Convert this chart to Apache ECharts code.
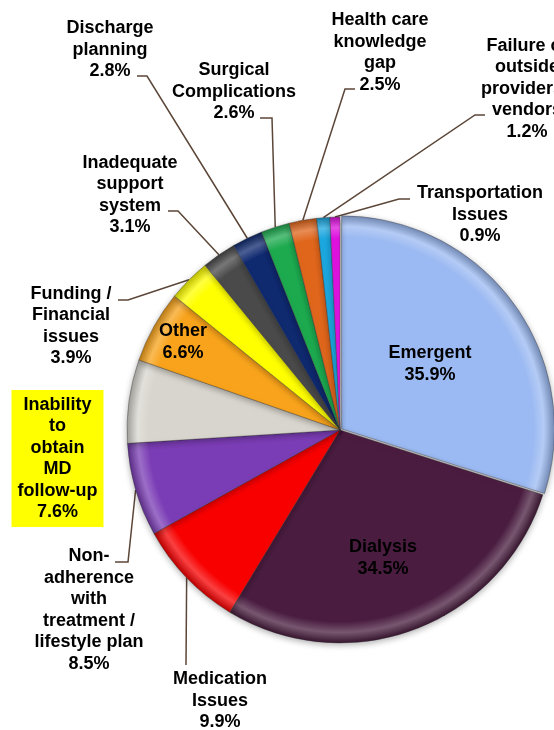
<!DOCTYPE html>
<html>
<head>
<meta charset="utf-8">
<script src="https://cdn.jsdelivr.net/npm/echarts@6/dist/echarts.min.js"></script>
<style>
  html, body { margin: 0; padding: 0; background: #fff; }
  #chart { width: 554px; height: 730px; }
</style>
</head>
<body>
<div id="chart"></div>
<script>
// slices, clockwise from 12 o'clock
const categories = [
  'Emergent',
  'Dialysis',
  'Medication\nIssues',
  'Non-\nadherence\nwith\ntreatment /\nlifestyle plan',
  'Inability\nto\nobtain\nMD\nfollow-up',
  'Other',
  'Funding /\nFinancial\nissues',
  'Inadequate\nsupport\nsystem',
  'Discharge\nplanning',
  'Surgical\nComplications',
  'Health care\nknowledge\ngap',
  'Failure of\noutside\nproviders /\nvendors',
  'Transportation\nIssues'
]
const percents = [35.9, 34.5, 9.9, 8.5, 7.6, 6.6, 3.9, 3.1, 2.8, 2.6, 2.5, 1.2, 0.9]

const sliceColors = ['#9bb9f2', '#4a1d40', '#f80000', '#7b3db5', '#d8d5ce', '#f8a31b', '#ffff00',
  '#4a4a4a', '#102a70', '#1daa4f', '#e0661c', '#1ca8e0', '#e012e0']

// label placement: text centre, then leader bend + end (next to the text)
const labelPos = [
  { x: 427, y: 365 },
  { x: 383, y: 558 },
  { x: 220, y: 701, line: [[186, 665], [186, 665]] },
  { x: 89, y: 610, line: [[128, 562], [115, 562]] },
  { x: 57.5, y: 458.5 },
  { x: 183, y: 342 },
  { x: 71, y: 326, line: [[128, 300], [118, 300]] },
  { x: 130, y: 195, line: [[178, 211], [168, 211]] },
  { x: 110, y: 50, line: [[147, 76], [137, 76]] },
  { x: 234, y: 92, line: [[272, 118], [260, 118]] },
  { x: 380, y: 52.5, line: [[345, 89], [355, 89]] },
  { x: 527, y: 89, line: [[475, 115], [485, 115]] },
  { x: 480, y: 215, line: [[399, 199], [410, 199]] }
]
const insideLabels = [0, 1, 5]
const boxedLabel = 4

const CX = 340
const CY = 430
const R = 213

function mix (hex, target, t) {
  const c = [1, 3, 5].map(i => parseInt(hex.substr(i, 2), 16))
  const o = c.map(v => Math.round(v + (target - v) * t))
  return 'rgb(' + o.join(',') + ')'
}

// flat colour with a thin bevelled rim
function sliceFill (color) {
  return new echarts.graphic.RadialGradient(CX, CY, R, [
    { offset: 0, color: color },
    { offset: 0.9, color: color },
    { offset: 0.95, color: mix(color, 255, 0.25) },
    { offset: 1, color: mix(color, 0, 0.25) }
  ], true)
}

const chart = echarts.init(document.getElementById('chart'), null, { renderer: 'canvas' })

const seriesData = percents.map((v, i) => {
  const item = {
    name: categories[i],
    value: v,
    itemStyle: { color: sliceFill(sliceColors[i]) }
  }
  if (insideLabels.indexOf(i) >= 0) {
    item.label = { position: 'inside' }
  }
  if (i === boxedLabel) {
    item.label = { backgroundColor: '#ffff00', padding: [4, 6] }
    item.labelLine = { show: false }
  }
  if (i === 0) {
    item.selected = true
  }
  return item
})

const option = {
  animation: false,
  backgroundColor: '#ffffff',
  series: [{
    type: 'pie',
    center: [CX, CY],
    radius: R,
    startAngle: 90,
    clockwise: true,
    selectedMode: 'single',
    selectedOffset: 2,
    avoidLabelOverlap: false,
    itemStyle: {
      borderColor: 'rgba(50,50,50,0.45)',
      borderWidth: 0.8,
      shadowBlur: 6,
      shadowColor: 'rgba(0,0,0,0.3)',
      shadowOffsetY: 2
    },
    label: {
      show: true,
      position: 'outside',
      color: '#000',
      fontFamily: '"Liberation Sans", Arial, sans-serif',
      fontWeight: 'bold',
      fontSize: 18,
      lineHeight: 21.5,
      align: 'center',
      formatter: p => p.name + '\n' + p.value.toFixed(1) + '%'
    },
    labelLine: {
      show: true,
      lineStyle: { color: '#5b4638', width: 1.5 }
    },
    labelLayout: function (params) {
      const p = labelPos[params.dataIndex]
      const out = { x: p.x, y: p.y, align: 'center', verticalAlign: 'middle' }
      const pts = params.labelLinePoints
      if (p.line && pts && pts.length) {
        out.labelLinePoints = [pts[0], p.line[0], p.line[1]]
      }
      return out
    },
    emphasis: { disabled: true },
    data: seriesData
  }]
}

chart.setOption(option)
</script>
</body>
</html>
